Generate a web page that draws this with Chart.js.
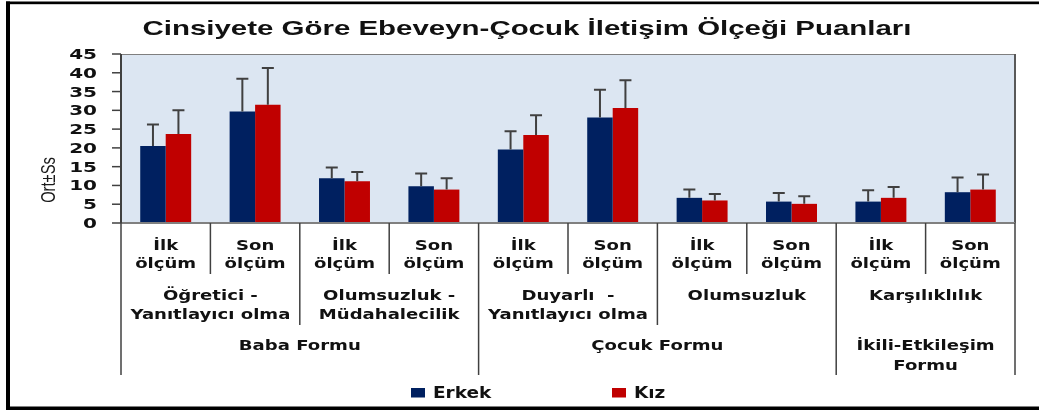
<!DOCTYPE html>
<html>
<head>
<meta charset="utf-8">
<title>Cinsiyete Göre Ebeveyn-Çocuk İletişim Ölçeği Puanları</title>
<script src="https://cdn.jsdelivr.net/npm/chart.js@4"></script>
<style>
    html, body { margin: 0; padding: 0; background: #ffffff; }
    #chartBox { width: 1039px; height: 410px; }
</style>
</head>
<body>
<div id="chartBox"><canvas id="olcekChart" width="1039" height="410"></canvas></div>
<script>
// Chart data
const phaseLabels = [
    ['İlk', 'ölçüm'], ['Son', 'ölçüm'], ['İlk', 'ölçüm'], ['Son', 'ölçüm'],
    ['İlk', 'ölçüm'], ['Son', 'ölçüm'], ['İlk', 'ölçüm'], ['Son', 'ölçüm'],
    ['İlk', 'ölçüm'], ['Son', 'ölçüm']
];
const subscaleLabels = [
    ['Öğretici -', 'Yanıtlayıcı olma'],
    ['Olumsuzluk -', 'Müdahalecilik'],
    ['Duyarlı  -', 'Yanıtlayıcı olma'],
    ['Olumsuzluk'],
    ['Karşılıklılık']
];
const subscaleSpans = [2, 2, 2, 2, 2];
const formLabels = [['Baba Formu'], ['Çocuk Formu'], ['İkili-Etkileşim', 'Formu']];
const formSpans = [4, 4, 2];

const erkekMean = [20.5, 29.7, 11.9, 9.8, 19.6, 28.1, 6.7, 5.7, 5.7, 8.2];
const erkekSd   = [5.7, 8.7, 2.9, 3.4, 4.8, 7.4, 2.2, 2.3, 3.0, 3.9];
const kizMean   = [23.7, 31.5, 11.1, 8.9, 23.4, 30.6, 6.0, 5.1, 6.7, 8.9];
const kizSd     = [6.3, 9.8, 2.5, 3.0, 5.3, 7.4, 1.7, 2.0, 2.9, 4.0];

const yTicks = [0, 5, 10, 15, 20, 25, 30, 35, 40, 45];

const titleText = 'Cinsiyete Göre Ebeveyn-Çocuk İletişim Ölçeği Puanları';
const yTitle = 'Ort±Ss';

const colErkek = '#002060';
const colKiz = '#C00000';
const labelFont = 'bold 14px "DejaVu Sans"';
const textColor = '#111111';

// Draw text squeezed/stretched horizontally
function drawStretched(ctx, txt, x, y, font, sx, align) {
    ctx.save();
    ctx.font = font;
    ctx.translate(x, y);
    ctx.scale(sx, 1);
    ctx.textAlign = align || 'center';
    ctx.textBaseline = 'alphabetic';
    ctx.fillText(txt, 0, 0);
    ctx.restore();
}

const decorPlugin = {
    id: 'decor',
    beforeDraw(chart) {
        const ctx = chart.ctx;
        const a = chart.chartArea;
        ctx.save();
        ctx.fillStyle = '#ffffff';
        ctx.fillRect(0, 0, chart.width, chart.height);
        ctx.fillStyle = '#DCE6F2';
        ctx.fillRect(a.left, a.top, a.right - a.left, a.bottom - a.top);
        ctx.restore();
    },
    afterDatasetsDraw(chart) {
        const ctx = chart.ctx;
        const a = chart.chartArea;
        const xs = chart.scales.x;
        const ys = chart.scales.y;

        // error bars (upward only)
        ctx.save();
        ctx.strokeStyle = '#404040';
        ctx.lineWidth = 2;
        chart.data.datasets.forEach((ds, di) => {
            const meta = chart.getDatasetMeta(di);
            meta.data.forEach((bar, i) => {
                const top = ys.getPixelForValue(ds.data[i] + ds.sd[i]);
                const base = ys.getPixelForValue(ds.data[i]);
                ctx.beginPath();
                ctx.moveTo(bar.x, base);
                ctx.lineTo(bar.x, top);
                ctx.moveTo(bar.x - 6, top);
                ctx.lineTo(bar.x + 6, top);
                ctx.stroke();
            });
        });
        ctx.restore();

        // plot frame
        ctx.save();
        ctx.strokeStyle = '#7f7f7f';
        ctx.lineWidth = 1;
        ctx.beginPath();
        ctx.moveTo(a.left, a.top + 0.5);
        ctx.lineTo(a.right, a.top + 0.5);
        ctx.stroke();
        ctx.strokeStyle = '#595959';
        ctx.lineWidth = 2;
        ctx.beginPath();
        ctx.moveTo(a.right, a.top);
        ctx.lineTo(a.right, a.bottom);
        ctx.stroke();
        ctx.strokeStyle = '#808080';
        ctx.beginPath();
        ctx.moveTo(a.left, a.bottom);
        ctx.lineTo(a.right, a.bottom);
        ctx.stroke();
        ctx.strokeStyle = '#404040';
        ctx.beginPath();
        ctx.moveTo(a.left, a.top);
        ctx.lineTo(a.left, a.bottom);
        ctx.stroke();
        ctx.restore();

        // y ticks and labels
        ctx.save();
        ctx.fillStyle = textColor;
        ctx.strokeStyle = '#404040';
        ctx.lineWidth = 1.5;
        yTicks.forEach(v => {
            const py = ys.getPixelForValue(v);
            ctx.beginPath();
            ctx.moveTo(a.left - 9, py);
            ctx.lineTo(a.left, py);
            ctx.stroke();
            drawStretched(ctx, String(v), a.left - 24, py + 5, labelFont, 1.43, 'right');
        });
        ctx.restore();

        // y title (rotated, widened across)
        ctx.save();
        ctx.fillStyle = '#1a1a1a';
        ctx.translate(55, 180);
        ctx.rotate(-Math.PI / 2);
        ctx.scale(0.92, 1.25);
        ctx.font = '16px "Liberation Sans"';
        ctx.textAlign = 'center';
        ctx.fillText(yTitle, 0, 0);
        ctx.restore();

        // multi-level category axis
        const half = (xs.getPixelForValue(1) - xs.getPixelForValue(0)) / 2;
        const edge = k => xs.getPixelForValue(0) - half + k * 2 * half;
        const groupEdges = [];
        let acc = 0;
        subscaleSpans.forEach(s => { acc += s; groupEdges.push(acc); });
        const formEdges = [0];
        acc = 0;
        formSpans.forEach(s => { acc += s; formEdges.push(acc); });

        ctx.save();
        ctx.strokeStyle = '#404040';
        ctx.lineWidth = 1.5;
        for (let k = 0; k <= phaseLabels.length; k++) {
            let y2 = a.bottom + 51;
            if (formEdges.includes(k)) y2 = a.bottom + 152;
            else if (groupEdges.includes(k)) y2 = a.bottom + 102;
            ctx.beginPath();
            ctx.moveTo(edge(k), a.bottom);
            ctx.lineTo(edge(k), y2);
            ctx.stroke();
        }
        ctx.fillStyle = textColor;
        phaseLabels.forEach((lines, i) => {
            const cx = xs.getPixelForValue(i);
            lines.forEach((t, j) => drawStretched(ctx, t, cx, a.bottom + 27 + j * 18, labelFont, 1.29));
        });
        let start = 0;
        subscaleLabels.forEach((lines, g) => {
            const cx = (edge(start) + edge(start + subscaleSpans[g])) / 2;
            lines.forEach((t, j) => drawStretched(ctx, t, cx, a.bottom + 77 + j * 19, labelFont, 1.29));
            start += subscaleSpans[g];
        });
        start = 0;
        formLabels.forEach((lines, g) => {
            const cx = (edge(start) + edge(start + formSpans[g])) / 2;
            lines.forEach((t, j) => drawStretched(ctx, t, cx, a.bottom + 127 + j * 20, labelFont, 1.29));
            start += formSpans[g];
        });
        ctx.restore();

        // title
        ctx.save();
        ctx.fillStyle = textColor;
        ctx.font = 'bold 21px "Liberation Sans"';
        const tw = ctx.measureText(titleText).width;
        drawStretched(ctx, titleText, 527, 35, 'bold 21px "Liberation Sans"', 769 / tw);
        ctx.restore();

        // legend
        ctx.save();
        chart.data.datasets.forEach((ds, di) => {
            const lx = di === 0 ? 411 : 612;
            ctx.fillStyle = ds.backgroundColor;
            ctx.fillRect(lx, 388, 14, 9.5);
            ctx.fillStyle = textColor;
            drawStretched(ctx, ds.label, lx + 22, 397.5, 'bold 15px "DejaVu Sans"', 1.23, 'left');
        });
        ctx.restore();

        // outer black frame (left, top, bottom)
        ctx.save();
        ctx.fillStyle = '#000000';
        ctx.fillRect(6, 1.5, chart.width - 6, 2.7);
        ctx.fillRect(6, 1.5, 4, chart.height);
        ctx.fillRect(6, 406.5, chart.width - 6, 3.5);
        ctx.restore();
    }
};

new Chart(document.getElementById('olcekChart'), {
    type: 'bar',
    data: {
        labels: phaseLabels.map(l => l.join(' ')),
        datasets: [
            {
                label: 'Erkek',
                data: erkekMean,
                sd: erkekSd,
                backgroundColor: colErkek,
                categoryPercentage: 0.57,
                barPercentage: 1.0
            },
            {
                label: 'Kız',
                data: kizMean,
                sd: kizSd,
                backgroundColor: colKiz,
                categoryPercentage: 0.57,
                barPercentage: 1.0
            }
        ]
    },
    options: {
        responsive: false,
        animation: false,
        devicePixelRatio: 1,
        layout: {
            padding: { left: 0, top: 54, right: 24, bottom: 187 }
        },
        plugins: {
            legend: { display: false },
            title: { display: false },
            tooltip: { enabled: false }
        },
        scales: {
            x: {
                offset: true,
                grid: { display: false },
                border: { display: false },
                ticks: { display: false },
                afterFit(scale) { scale.height = 0; }
            },
            y: {
                min: 0,
                max: 45,
                grid: { display: false },
                border: { display: false },
                ticks: { display: false, stepSize: 5 },
                afterFit(scale) { scale.width = 121; }
            }
        }
    },
    plugins: [decorPlugin]
});
</script>
</body>
</html>
